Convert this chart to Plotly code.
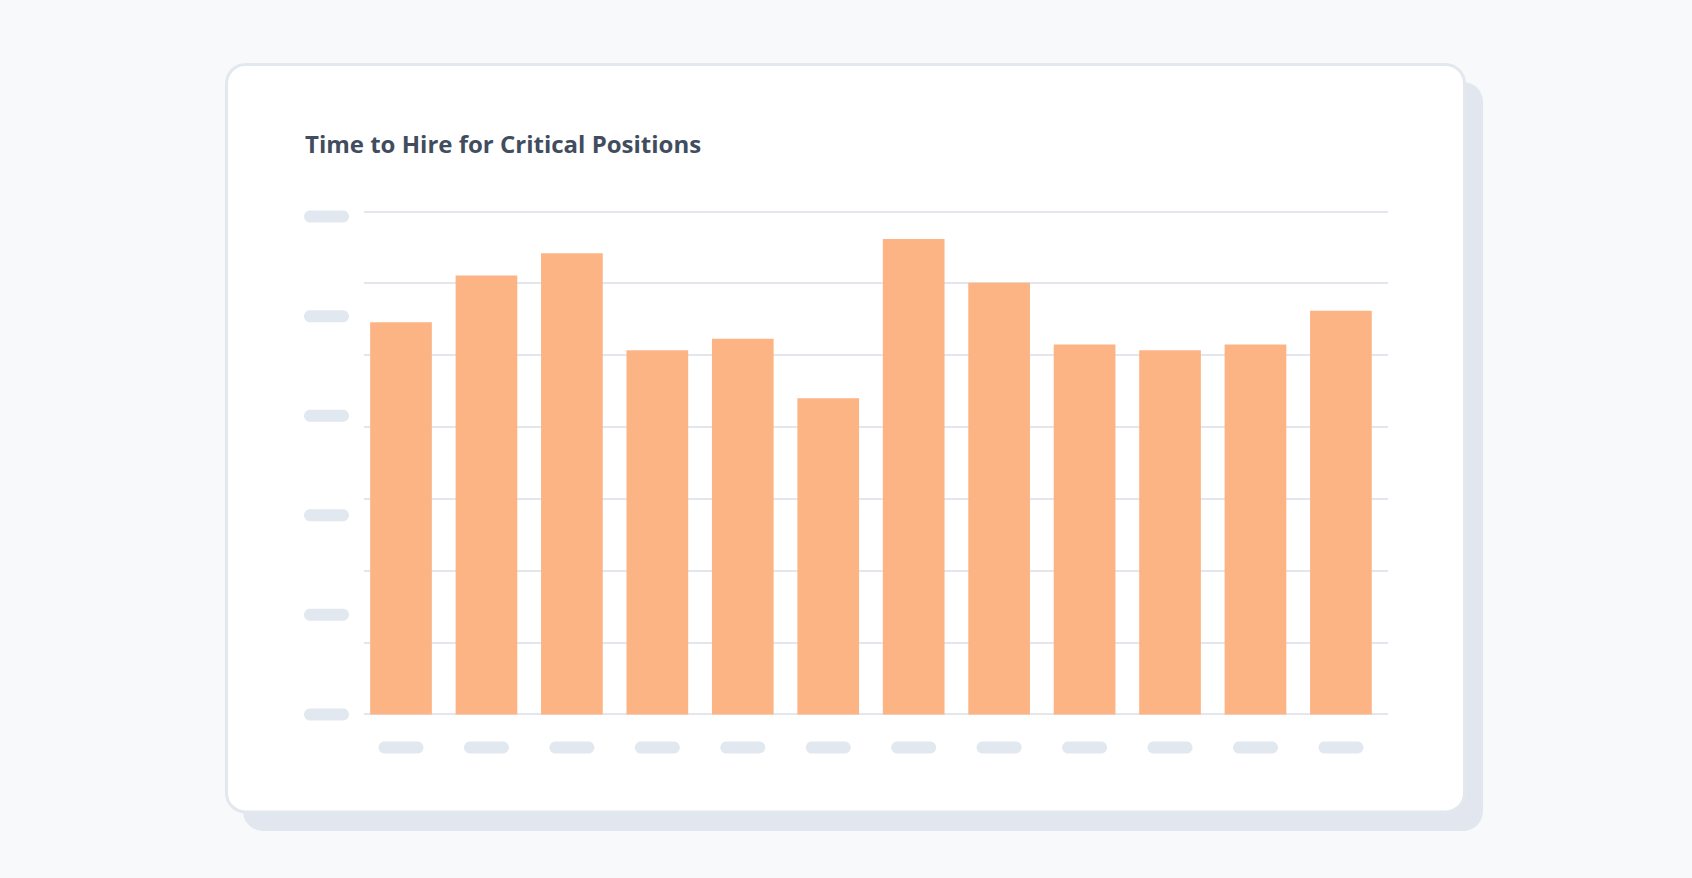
import plotly.graph_objects as go

# ---- data ----
months = ["Jan", "Feb", "Mar", "Apr", "May", "Jun",
          "Jul", "Aug", "Sep", "Oct", "Nov", "Dec"]
days_to_hire = [54.6, 61.1, 64.2, 50.7, 52.3, 44.0, 66.2, 60.1, 51.5, 50.7, 51.5, 56.2]
y_max = 70
y_step = 10
title_text = "Time to Hire for Critical Positions"

# ---- style ----
PAGE_BG = "#f8f9fb"
CARD_LINE = "#e3e8ef"
SHADOW = "#e2e7ef"
BAR = "#fdb485"
GRID = "#e3e6ec"
PILL = "#e2e8f0"
TITLE_COLOR = "#414d5e"

W, H = 1692, 878
L, R, T, B = 364, 304, 208, 160
Y_PAD = 0.5                      # axis padding so edge gridlines are drawn
X_RANGE = [-0.433, 11.551]
Y_RANGE = [-Y_PAD, y_max + Y_PAD]


def rounded_rect(x0, y0, x1, y1, r):
    """Pixel path for a rounded rectangle (y up)."""
    k = 0.5523 * r
    xl, xr = min(x0, x1), max(x0, x1)
    yb, yt = min(y0, y1), max(y0, y1)
    return (
        f"M {xl + r},{yb} L {xr - r},{yb} "
        f"C {xr - r + k},{yb} {xr},{yb + r - k} {xr},{yb + r} "
        f"L {xr},{yt - r} "
        f"C {xr},{yt - r + k} {xr - r + k},{yt} {xr - r},{yt} "
        f"L {xl + r},{yt} "
        f"C {xl + r - k},{yt} {xl},{yt - r + k} {xl},{yt - r} "
        f"L {xl},{yb + r} "
        f"C {xl},{yb + r - k} {xl + r - k},{yb} {xl + r},{yb} Z"
    )


def px_rel(px, py):
    """Page pixel (from top-left) -> offset from plot bottom-left (y up)."""
    return px - L, (H - B) - py


def y_paper(v):
    return (v - Y_RANGE[0]) / (Y_RANGE[1] - Y_RANGE[0])


def x_paper(i):
    return (i - X_RANGE[0]) / (X_RANGE[1] - X_RANGE[0])


def pix_shape(xanchor, yanchor, path, fill, line=None, layer="above"):
    return dict(type="path", xref="paper", yref="paper", xsizemode="pixel", ysizemode="pixel",
                xanchor=xanchor, yanchor=yanchor, path=path, fillcolor=fill,
                line=line or dict(width=0), layer=layer)


shapes = []

# card shadow
sx0, sy0 = px_rel(243, 831)
sx1, sy1 = px_rel(1483, 82)
shapes.append(pix_shape(0, 0, rounded_rect(sx0, sy0, sx1, sy1, 20), SHADOW, layer="below"))
# card
cx0, cy0 = px_rel(226.5, 812)
cx1, cy1 = px_rel(1464.5, 64.5)
shapes.append(pix_shape(0, 0, rounded_rect(cx0, cy0, cx1, cy1, 19), "#ffffff",
                        line=dict(color=CARD_LINE, width=3), layer="below"))

# placeholder y-axis tick pills (6 evenly spaced)
n_ypills = 6
top_pill_val = y_max * 0.99
for i in range(n_ypills):
    v = top_pill_val * i / (n_ypills - 1)
    shapes.append(pix_shape(0, y_paper(v), rounded_rect(-60, -6, -15, 6, 6), PILL))

# placeholder x-axis tick pills
for i, m in enumerate(months):
    shapes.append(pix_shape(x_paper(i), y_paper(0), rounded_rect(-22.5, -39, 22.5, -27, 6), PILL))

fig = go.Figure()
fig.add_trace(go.Bar(x=months, y=days_to_hire, marker=dict(color=BAR, line=dict(width=0)),
                     hoverinfo="x+y"))

fig.update_layout(
    width=W, height=H,
    margin=dict(l=L, r=R, t=T, b=B, autoexpand=False),
    paper_bgcolor=PAGE_BG,
    plot_bgcolor="rgba(0,0,0,0)",
    bargap=0.278,
    showlegend=False,
    shapes=shapes,
    title=dict(text=title_text, x=305 / W, xref="container", xanchor="left",
               y=1 - 145 / H, yref="container", yanchor="middle",
               font=dict(family="Open Sans", size=24, weight=700, color=TITLE_COLOR)),
    xaxis=dict(range=X_RANGE, showticklabels=False, showgrid=False, zeroline=False,
               ticks="", showline=False, fixedrange=True),
    yaxis=dict(range=Y_RANGE, dtick=y_step, tick0=0, showticklabels=False,
               showgrid=True, gridcolor=GRID, gridwidth=1.5, zeroline=False, ticks="",
               showline=False, fixedrange=True),
)

fig.write_html("out.html", config={"displayModeBar": False},
               post_script="document.body.style.margin='0';")
